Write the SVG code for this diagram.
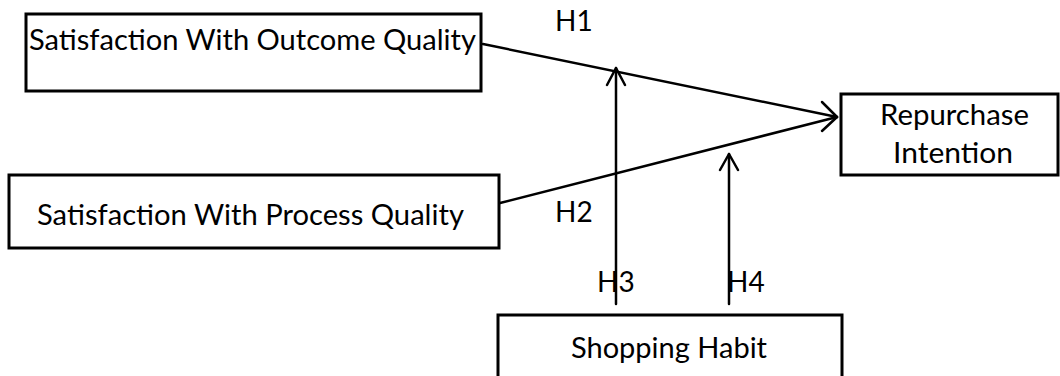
<svg xmlns="http://www.w3.org/2000/svg" width="1060" height="376" viewBox="0 0 1060 376">
<style>
.box{fill:#fff;stroke:#000;stroke-width:3}
.t{font-family:Lato,"Open Sans",sans-serif;font-size:28px;fill:#000}
.c{text-anchor:middle}
.ln{stroke:#000;stroke-width:2.5;fill:none;stroke-linecap:round;stroke-linejoin:round}
</style>
<rect width="1060" height="376" fill="#fff"/>
<g id="connectors">
<line class="ln" x1="483" y1="44" x2="837" y2="117"/>
<polyline class="ln" points="822,102 837,117 822,131"/>
<line class="ln" x1="500" y1="203" x2="837" y2="117"/>
<line class="ln" x1="616" y1="304" x2="616" y2="68"/>
<polyline class="ln" points="607,85 616,68 625,85"/>
<line class="ln" x1="729" y1="304" x2="729" y2="154"/>
<polyline class="ln" points="720,170 729,154 738,170"/>
<text class="t" x="555" y="31">H1</text>
<text class="t" x="555" y="222">H2</text>
<text class="t" x="597" y="292">H3</text>
<text class="t" x="727" y="292">H4</text>
</g>
<g id="outcome">
<rect class="box" x="26" y="14" width="455" height="77"/>
<text class="t" x="29" y="50" textLength="447" lengthAdjust="spacingAndGlyphs">Satisfaction With Outcome Quality</text>
</g>
<g id="process">
<rect class="box" x="9" y="175" width="490" height="73"/>
<text class="t" x="37" y="225" textLength="427" lengthAdjust="spacingAndGlyphs">Satisfaction With Process Quality</text>
</g>
<g id="repurchase">
<rect class="box" x="841" y="94" width="217" height="81"/>
<text class="t" x="880" y="125" textLength="149" lengthAdjust="spacingAndGlyphs">Repurchase</text>
<text class="t" x="893" y="163" textLength="120" lengthAdjust="spacingAndGlyphs">Intention</text>
</g>
<g id="habit">
<rect class="box" x="498" y="315" width="344" height="70"/>
<text class="t" x="571" y="358" textLength="196" lengthAdjust="spacingAndGlyphs">Shopping Habit</text>
</g>
</svg>
